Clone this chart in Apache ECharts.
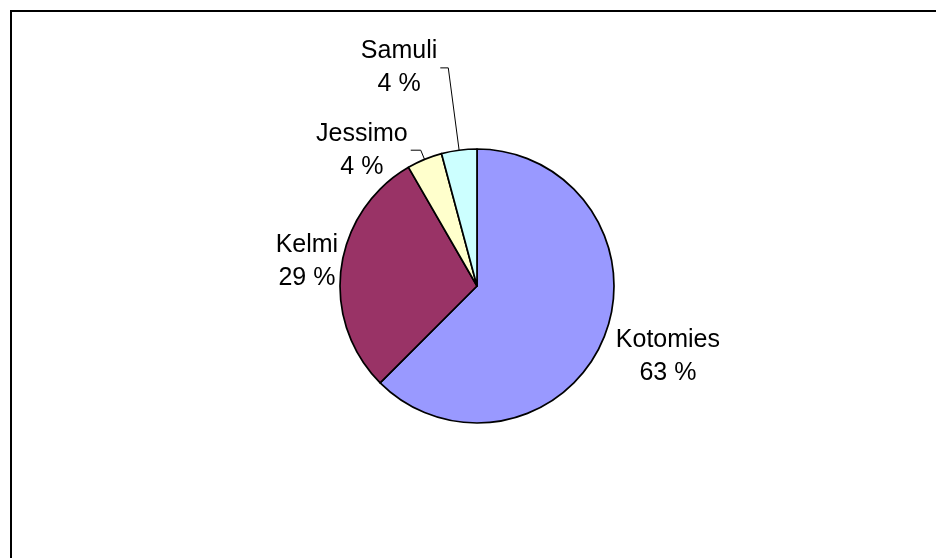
<!DOCTYPE html>
<html>
<head>
<meta charset="utf-8">
<script src="https://cdn.jsdelivr.net/npm/echarts@6/dist/echarts.min.js"></script>
<style>
  html, body { margin: 0; padding: 0; background: #fff; }
  #wrap { position: relative; width: 936px; height: 558px; overflow: hidden; }
  #frame { position: absolute; left: 10px; top: 10px; width: 940px; height: 560px;
           border-top: 2px solid #000; border-left: 2px solid #000; box-sizing: border-box; }
  #chart { position: absolute; left: 0; top: 0; width: 936px; height: 558px; }
</style>
</head>
<body>
<div id="wrap">
  <div id="frame"></div>
  <div id="chart"></div>
</div>
<script>
// Data
const categories = ['Kotomies', 'Kelmi', 'Jessimo', 'Samuli'];
const values = [15, 7, 1, 1];
const colors = ['#9999FF', '#993366', '#FFFFCC', '#CCFFFF'];

// Per-slice label tuning (label line visibility / lengths / padding)
const labelLines = [
  { show: false, length: 10, length2: 0 },
  { show: false, length: 0, length2: 0 },
  { show: true, length: 10, length2: 10 },
  { show: true, length: 83, length2: 8 }
];
const labelPads = [[28, 0, 0, 0], [0, 0, 13, 0], [0, 0, 0, 0], [0, 0, 0, 0]];

const chart = echarts.init(document.getElementById('chart'), null, { renderer: 'canvas' });

const data = categories.map((name, i) => ({
  name: name,
  value: values[i],
  itemStyle: { color: colors[i] },
  labelLine: labelLines[i],
  label: { padding: labelPads[i] }
}));

chart.setOption({
  animation: false,
  backgroundColor: 'transparent',
  series: [{
    type: 'pie',
    center: [477, 286],
    radius: 137,
    startAngle: 90,
    clockwise: true,
    avoidLabelOverlap: false,
    percentPrecision: 0,
    itemStyle: { borderColor: '#000', borderWidth: 1.7 },
    emphasis: { disabled: true },
    label: {
      show: true,
      position: 'outside',
      distanceToLabelLine: 3,
      formatter: '{t|{b}}\n{t|{d} %}',
      color: '#000',
      fontFamily: 'Liberation Sans, Arial, sans-serif',
      fontSize: 25,
      lineHeight: 33,
      rich: {
        t: {
          align: 'center',
          color: '#000',
          fontFamily: 'Liberation Sans, Arial, sans-serif',
          fontSize: 25,
          lineHeight: 33
        }
      }
    },
    labelLine: {
      lineStyle: { color: '#000', width: 1 }
    },
    data: data
  }]
});
</script>
</body>
</html>
